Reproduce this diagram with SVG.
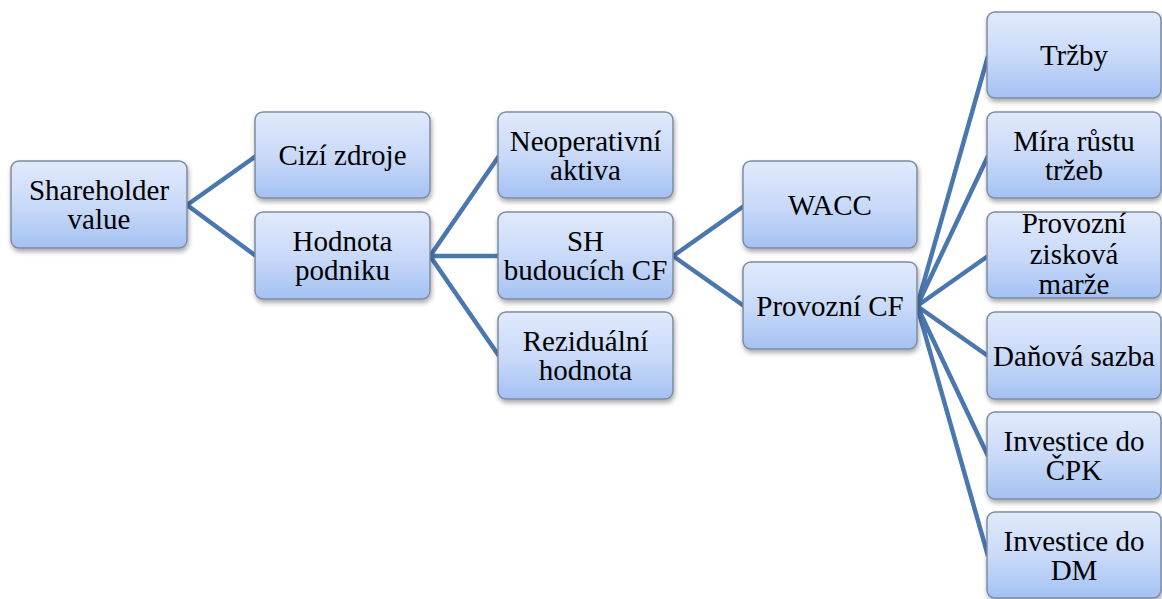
<svg xmlns="http://www.w3.org/2000/svg" width="1162" height="599" viewBox="0 0 1162 599">
  <defs>
    <linearGradient id="boxFill" x1="0" y1="0" x2="0" y2="1">
      <stop offset="0" stop-color="#e1eafc"/>
      <stop offset="0.55" stop-color="#c7d8f8"/>
      <stop offset="1" stop-color="#a4c1f3"/>
    </linearGradient>
    <filter id="shadow" x="-10%" y="-10%" width="125%" height="130%">
      <feGaussianBlur in="SourceAlpha" stdDeviation="2.5"/>
      <feOffset dx="1" dy="3" result="b"/>
      <feComponentTransfer><feFuncA type="linear" slope="0.35"/></feComponentTransfer>
      <feMerge><feMergeNode/><feMergeNode in="SourceGraphic"/></feMerge>
    </filter>
  </defs>
  <style>
    .box { fill: url(#boxFill); stroke: #7d8ca3; stroke-width: 1.5; filter: url(#shadow); }
    .lbl { font-size: 29px; fill: #000; text-anchor: middle; }
    .link { stroke: #4a77ae; stroke-width: 4.5; fill: none; stroke-linecap: butt; }
  </style>
  <rect width="1162" height="599" fill="#ffffff"/>

  <g id="connectors">
    <path class="link" d="M187 205 L256 156 M187 205 L256 256"/>
    <path class="link" d="M430 256 L499 156 M430 256 L499 256 M430 256 L499 356"/>
    <path class="link" d="M673 256 L744 206 M673 256 L744 306"/>
    <path class="link" d="M917 306 L988 56 M917 306 L988 156 M917 306 L988 256 M917 306 L988 356 M917 306 L988 456 M917 306 L988 556"/>
  </g>

  <g font-family="Liberation Serif, DejaVu Serif, serif">
  <g id="shareholder-value">
    <rect class="box" x="11" y="161" width="176" height="87" rx="8"/>
    <text class="lbl" x="99" y="200">Shareholder</text>
    <text class="lbl" x="99" y="229">value</text>
  </g>
  <g id="cizi-zdroje">
    <rect class="box" x="255" y="112" width="175" height="86" rx="8"/>
    <text class="lbl" x="342.5" y="165">Cizí zdroje</text>
  </g>
  <g id="hodnota-podniku">
    <rect class="box" x="255" y="212" width="175" height="87" rx="8"/>
    <text class="lbl" x="342.5" y="251">Hodnota</text>
    <text class="lbl" x="342.5" y="280">podniku</text>
  </g>
  <g id="neoperativni-aktiva">
    <rect class="box" x="498" y="112" width="175" height="86" rx="8"/>
    <text class="lbl" x="585.5" y="151">Neoperativní</text>
    <text class="lbl" x="585.5" y="180">aktiva</text>
  </g>
  <g id="sh-budoucich-cf">
    <rect class="box" x="498" y="212" width="175" height="87" rx="8"/>
    <text class="lbl" x="585.5" y="251">SH</text>
    <text class="lbl" x="585.5" y="280">budoucích CF</text>
  </g>
  <g id="rezidualni-hodnota">
    <rect class="box" x="498" y="312" width="175" height="87" rx="8"/>
    <text class="lbl" x="585.5" y="351">Reziduální</text>
    <text class="lbl" x="585.5" y="380">hodnota</text>
  </g>
  <g id="wacc">
    <rect class="box" x="743" y="161" width="174" height="87" rx="8"/>
    <text class="lbl" x="830" y="215">WACC</text>
  </g>
  <g id="provozni-cf">
    <rect class="box" x="743" y="262" width="174" height="87" rx="8"/>
    <text class="lbl" x="830" y="316">Provozní CF</text>
  </g>
  <g id="trzby">
    <rect class="box" x="987" y="12" width="174" height="86" rx="8"/>
    <text class="lbl" x="1074" y="65">Tržby</text>
  </g>
  <g id="mira-rustu-trzeb">
    <rect class="box" x="987" y="112" width="174" height="86" rx="8"/>
    <text class="lbl" x="1074" y="151">Míra růstu</text>
    <text class="lbl" x="1074" y="180">tržeb</text>
  </g>
  <g id="provozni-ziskova-marze">
    <rect class="box" x="987" y="212" width="174" height="86" rx="8"/>
    <text class="lbl" x="1074" y="233">Provozní</text>
    <text class="lbl" x="1074" y="264">zisková</text>
    <text class="lbl" x="1074" y="294">marže</text>
  </g>
  <g id="danova-sazba">
    <rect class="box" x="987" y="312" width="174" height="87" rx="8"/>
    <text class="lbl" x="1074" y="366">Daňová sazba</text>
  </g>
  <g id="investice-cpk">
    <rect class="box" x="987" y="412" width="174" height="87" rx="8"/>
    <text class="lbl" x="1074" y="451">Investice do</text>
    <text class="lbl" x="1074" y="480">ČPK</text>
  </g>
  <g id="investice-dm">
    <rect class="box" x="987" y="512" width="174" height="86" rx="8"/>
    <text class="lbl" x="1074" y="551">Investice do</text>
    <text class="lbl" x="1074" y="580">DM</text>
  </g>
  </g>
</svg>
